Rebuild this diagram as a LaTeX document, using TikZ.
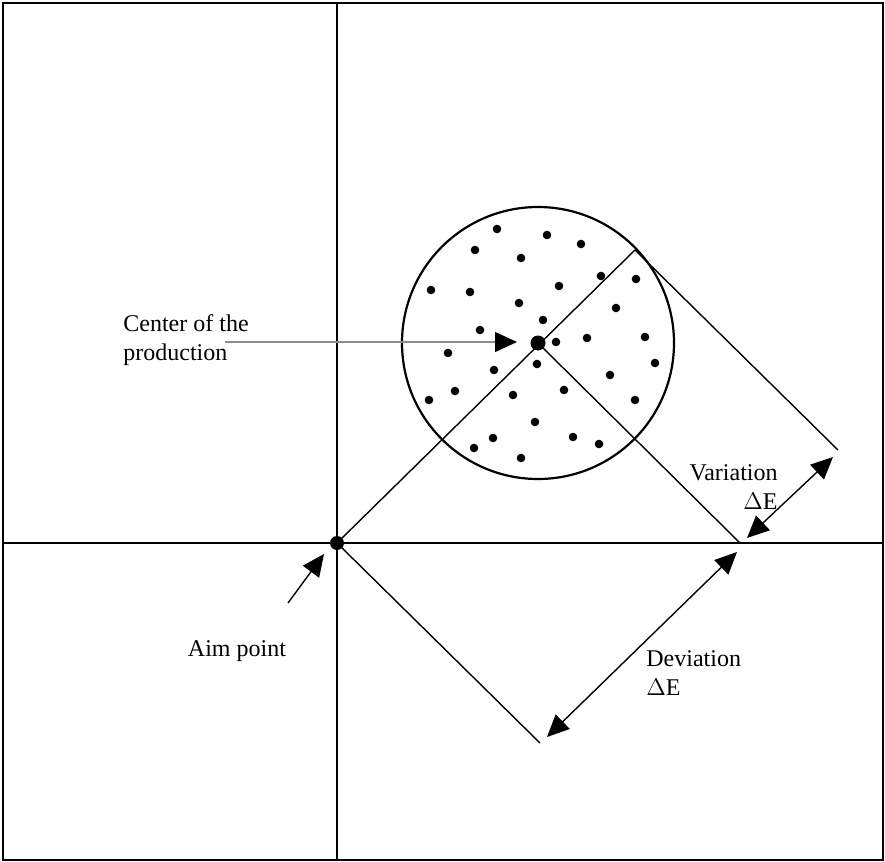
\documentclass[tikz,border=0pt]{standalone}
\usepackage{fontspec}
\setmainfont{Liberation Serif}
\usetikzlibrary{arrows.meta}
\begin{document}
\begin{tikzpicture}[x=0.5pt,y=-0.5pt,
  frame/.style={line width=1.3pt},
  axis/.style={line width=0.65pt},
  geo/.style={line width=0.7pt},
  dot/.style={fill=black,draw=none},
  bigtip/.style={-{Triangle[length=11pt,width=10pt,color=black]}},
  dbltip/.style={{Triangle[length=11pt,width=10pt,color=black]}-{Triangle[length=11pt,width=10pt,color=black]}},
  lbl/.style={inner sep=0pt,font=\fontsize{12pt}{14.5pt}\selectfont}]
\useasboundingbox (0,0) rectangle (885,862);
% frame and axes
\draw[frame] (3,3) rectangle (883,860);
\coordinate (axT) at (337,3);
\coordinate (axB) at (337,860);
\coordinate (axL) at (3,543);
\coordinate (axR) at (883,543);
\draw[axis] (axT) -- (axB);
\draw[axis] (axL) -- (axR);
% key points
\coordinate (aim) at (337,543);
\coordinate (ctr) at (538,343);
\coordinate (rim) at (635,250);
\coordinate (hit) at (740,543);
\coordinate (far) at (838,450);
\coordinate (low) at (540,743);
% circle
\draw[line width=1.1pt] (ctr) circle[radius=136];
% construction lines
\draw[geo] (aim) -- (rim);
\draw[geo] (ctr) -- (hit);
\draw[geo] (rim) -- (far);
\draw[geo] (aim) -- (low);
% scatter dots
\foreach \p in {(497,229),(547,235),(581,244),(475,250),(521,258),(601,276),(636,279),
  (431,290),(470,292),(559,286),(519,303),(616,308),(543,320),(480,330),(556,342),
  (587,338),(645,337),(448,353),(537,364),(494,370),(655,363),(610,375),(455,391),
  (564,390),(513,395),(429,400),(635,400),(535,422),(493,438),(573,437),(474,448),
  (599,444),(521,458)}
  \fill[dot] \p circle[radius=4.3];
\fill[dot] (ctr) circle[radius=7.5];
\fill[dot] (aim) circle[radius=7];
% labels
\node[lbl,anchor=west,align=left] (lc) at (123,340) {Center of the\\production};
\node[lbl] (la) at (237,651) {Aim point};
\node[lbl,anchor=east,align=right] (lv) at (778,487) {Variation\\$\Delta$E};
\node[lbl,anchor=west,align=left] (ld) at (646,673) {Deviation\\$\Delta$E};
% arrows
\coordinate (cs) at (225,342);
\coordinate (ce) at (517,342);
\draw[bigtip,line width=0.6pt,color=black!45] (cs) -- (ce);
\coordinate (as) at (288,603);
\coordinate (ae) at (324,554);
\draw[bigtip,line width=0.7pt] (as) -- (ae);
\coordinate (v1) at (747,538);
\coordinate (v2) at (833,457);
\draw[dbltip,line width=0.7pt] (v1) -- (v2);
\coordinate (d1) at (737,552);
\coordinate (d2) at (547,737);
\draw[dbltip,line width=0.7pt] (d1) -- (d2);
\end{tikzpicture}
\end{document}
